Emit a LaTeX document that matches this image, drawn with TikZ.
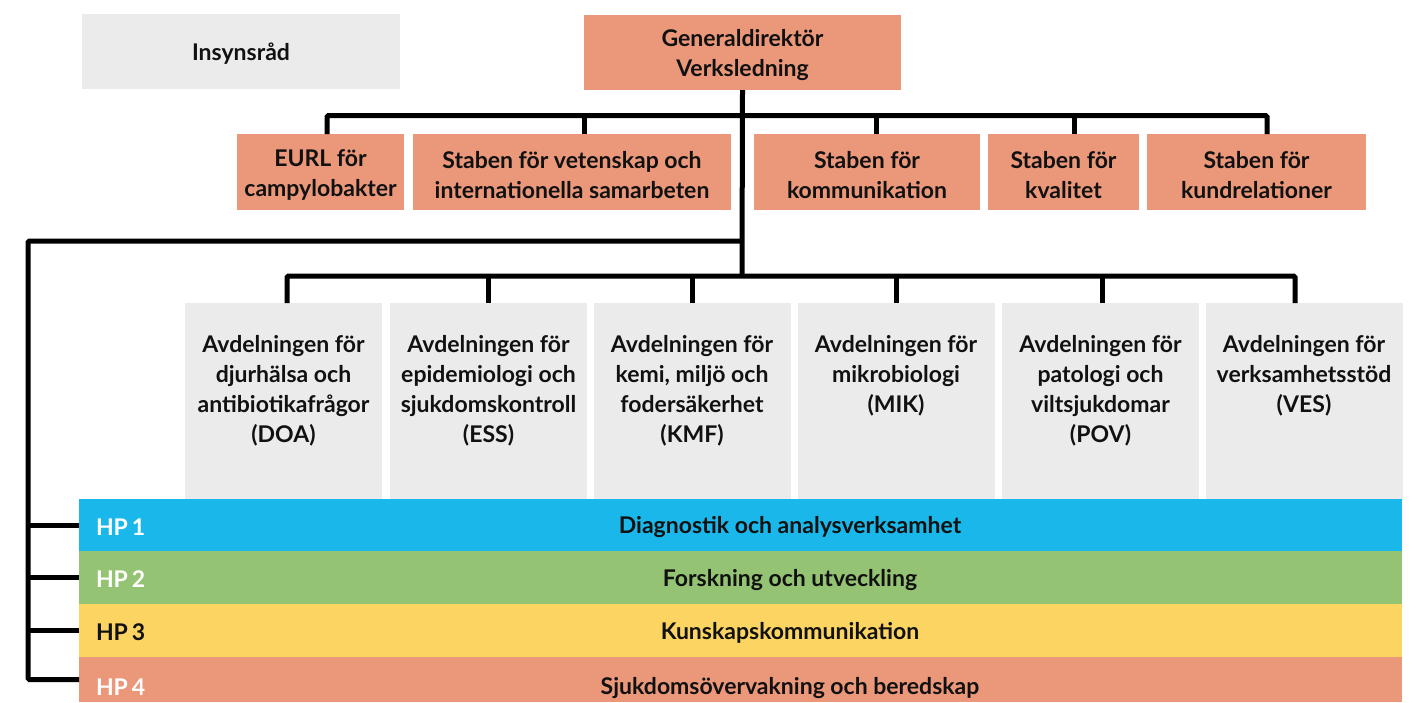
\documentclass[tikz,border=0pt]{standalone}
\usepackage{fontspec}
\setmainfont{Lato}
\usetikzlibrary{calc}
\definecolor{salmon}{HTML}{EB987A}
\definecolor{lgrey}{HTML}{EBEBEB}
\definecolor{hpblue}{HTML}{1AB8EA}
\definecolor{hpgreen}{HTML}{95C374}
\definecolor{hpyellow}{HTML}{FCD462}
\definecolor{ink}{HTML}{111111}
\begin{document}
\begin{tikzpicture}[x=1pt,y=-1pt,
  every node/.style={inner sep=0pt, outer sep=0pt, text=ink, font=\fontsize{23}{30}\selectfont\bfseries},
  box/.style={rectangle, minimum height=#1},
  boxtext/.style={align=center},
  staffbox/.style={box=76, fill=salmon},
  deptbox/.style={rectangle, fill=lgrey, minimum width=197, minimum height=197},
  depttxt/.style={align=center, anchor=north},
  hpbar/.style={rectangle, minimum width=1323, minimum height=#1},
  hplabel/.style={anchor=west, text=white},
  conn/.style={line width=5pt, draw=black, rounded corners=1.5pt}
]
\useasboundingbox (0,0) rectangle (1420,702);

% top level
\node[box=75, fill=lgrey, minimum width=318] (insyn) at (241,51.5) {};
\node[boxtext] (insynt) at ($(insyn.center)+(0,2.5)$) {Insynsråd};
\node[box=75, fill=salmon, minimum width=317] (gd) at (742.5,52.5) {};
\node[boxtext] (gdt) at ($(gd.center)+(0,3)$) {Generaldirektör\\Verksledning};

% staff
\node[staffbox, minimum width=167] (eurl) at (320.5,172) {};
\node[staffbox, minimum width=318] (vet) at (572,172) {};
\node[staffbox, minimum width=226] (kom) at (867,172) {};
\node[staffbox, minimum width=151] (kval) at (1063.5,172) {};
\node[staffbox, minimum width=219] (kund) at (1256.5,172) {};
\node[boxtext] (eurlt) at ($(eurl.center)+(0,3)$) {EURL för\\campylobakter};
\node[boxtext] (vett) at ($(vet.center)+(0,3)$) {Staben för vetenskap och\\internationella samarbeten};
\node[boxtext] (komt) at ($(kom.center)+(0,3)$) {Staben för\\kommunikation};
\node[boxtext] (kvalt) at ($(kval.center)+(0,3)$) {Staben för\\kvalitet};
\node[boxtext] (kundt) at ($(kund.center)+(0,3)$) {Staben för\\kundrelationer};

% departments
\node[deptbox] (doa) at (283.5,401.5) {};
\node[deptbox] (ess) at (488.5,401.5) {};
\node[deptbox] (kmf) at (692,401.5) {};
\node[deptbox] (mik) at (896,401.5) {};
\node[deptbox] (pov) at (1100.5,401.5) {};
\node[deptbox] (ves) at (1304,401.5) {};
\node[depttxt] (doat) at ($(doa.north)+(0,32)$) {Avdelningen för\\djurhälsa och\\antibiotikafrågor\\(DOA)};
\node[depttxt] (esst) at ($(ess.north)+(0,32)$) {Avdelningen för\\epidemiologi och\\sjukdomskontroll\\(ESS)};
\node[depttxt] (kmft) at ($(kmf.north)+(0,32)$) {Avdelningen för\\kemi, miljö och\\fodersäkerhet\\(KMF)};
\node[depttxt] (mikt) at ($(mik.north)+(0,32)$) {Avdelningen för\\mikrobiologi\\(MIK)};
\node[depttxt] (povt) at ($(pov.north)+(0,32)$) {Avdelningen för\\patologi och\\viltsjukdomar\\(POV)};
\node[depttxt] (vest) at ($(ves.north)+(0,32)$) {Avdelningen för\\verksamhetsstöd\\(VES)};

% HP bars
\node[hpbar=52, fill=hpblue] (hp1) at (740.5,525) {};
\node[hpbar=53, fill=hpgreen] (hp2) at (740.5,577.5) {};
\node[hpbar=53, fill=hpyellow] (hp3) at (740.5,630.5) {};
\node[hpbar=45, fill=salmon] (hp4) at (740.5,679.5) {};
\node[hplabel] (hp1l) at ($(hp1.west)+(17,2)$) {HP\,1};
\node[hplabel] (hp2l) at ($(hp2.west)+(17,2)$) {HP\,2};
\node[hplabel, text=ink] (hp3l) at ($(hp3.west)+(17,2)$) {HP\,3};
\node[hplabel] (hp4l) at ($(hp4.west)+(17,8)$) {HP\,4};
\node (hp1t) at (790,527.5) {Diagnostik och analysverksamhet};
\node (hp2t) at (790,580) {Forskning och utveckling};
\node (hp3t) at (790,633) {Kunskapskommunikation};
\node (hp4t) at (790,688) {Sjukdomsövervakning och beredskap};

% connectors
\coordinate (h1) at (742,115.5);
\coordinate (h3) at (742,241);
\coordinate (h2) at (742,276);
\coordinate (lft) at (28,241);
\draw[conn] (gd.south) -- (h2);
\draw[conn] ([xshift=6.5pt]eurl.north) |- (h1) -| ([xshift=10.5pt]kund.north);
\draw[conn] ([xshift=12pt]vet.north) -- ([xshift=12pt]vet.north |- h1);
\draw[conn] ([xshift=9pt]kom.north) -- ([xshift=9pt]kom.north |- h1);
\draw[conn] ([xshift=10.5pt]kval.north) -- ([xshift=10.5pt]kval.north |- h1);
\draw[conn] ([xshift=3.5pt]doa.north) |- (h2) -| ([xshift=-9pt]ves.north);
\draw[conn] (ess.north) -- (ess.north |- h2);
\draw[conn] (kmf.north) -- (kmf.north |- h2);
\draw[conn] (mik.north) -- (mik.north |- h2);
\draw[conn] ([xshift=1.5pt]pov.north) -- ([xshift=1.5pt]pov.north |- h2);
\draw[conn] (h3) -- (lft) |- (hp4.west);
\draw[conn] (lft |- hp1.west) -- (hp1.west);
\draw[conn] (lft |- hp2.west) -- (hp2.west);
\draw[conn] (lft |- hp3.west) -- (hp3.west);
\end{tikzpicture}
\end{document}
